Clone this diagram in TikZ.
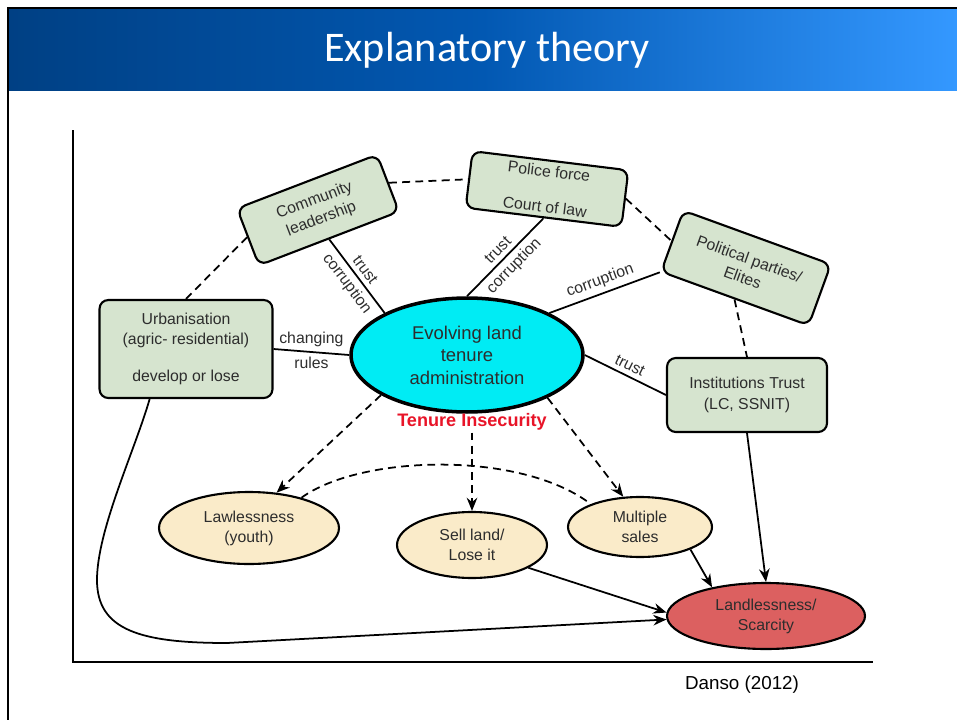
\documentclass[tikz,border=0pt]{standalone}
\usepackage{fontspec}
\setmainfont{Liberation Sans}
\newfontfamily\titlefont{Carlito}
\usetikzlibrary{shapes.geometric,arrows.meta}
\definecolor{bandleft}{RGB}{0,64,132}
\definecolor{bandmid}{RGB}{2,88,178}
\definecolor{bandright}{RGB}{52,152,255}
\definecolor{boxgreen}{RGB}{214,228,207}
\definecolor{ovalcream}{RGB}{250,235,201}
\definecolor{evolvecyan}{RGB}{0,236,244}
\definecolor{landred}{RGB}{220,96,96}
\definecolor{insecred}{RGB}{232,20,40}
\definecolor{inkgray}{RGB}{45,45,45}

\begin{document}
\begin{tikzpicture}[x=.02cm, y=-.02cm,
    box/.style={draw, line width=1.2, rounded corners=5pt, fill=boxgreen, align=center, inner sep=0, text=inkgray, font=\fontsize{9}{11.3}\selectfont},
    oval/.style={draw, ellipse, line width=1.2, fill=ovalcream, align=center, inner sep=0, text=inkgray, font=\fontsize{9}{11.3}\selectfont},
    link/.style={line width=1},
    soft/.style={line width=1, dash pattern=on 4.5pt off 3pt},
    tip/.style={-{Stealth[length=7.5pt, width=6pt]}},
    lbl/.style={inner sep=2.5pt, text=inkgray, font=\fontsize{9}{11}\selectfont}]
    \useasboundingbox (0, 0) rectangle (957, 720);

    \shade[left color=bandleft, right color=bandright, middle color=bandmid] (8, 8) rectangle (957, 90);
    \draw[line width=1.5] (8, 720) -- (8, 8) -- (957, 8);
    \node[text=white, font=\titlefont\fontsize{24}{28}\selectfont] (title) at (487, 50) {Explanatory theory};

    \draw[line width=.8] (73, 130) -- (73, 662) -- (873, 662);

    \node[box, rotate=21, minimum width=3cm, minimum height=1.22cm] (comm) at (318, 210) {Community\\leadership};
    \node[box, rotate=-7, minimum width=3.14cm, minimum height=1.14cm] (police) at (547, 189) {Police force\\[9pt]Court of law};
    \node[box, rotate=-20, minimum width=3.14cm, minimum height=1.3cm] (political) at (746, 268) {Political parties/\\Elites};
    \node[box, minimum width=3.46cm, minimum height=1.96cm] (urban) at (186, 349) {Urbanisation\\(agric- residential)\\[10pt]develop or lose};
    \node[box, minimum width=3.2cm, minimum height=1.48cm] (inst) at (747, 395) {Institutions Trust\\[1pt](LC, SSNIT)};

    \node[oval, line width=2, fill=evolvecyan, minimum width=4.64cm, minimum height=2.28cm, font=\fontsize{10.5}{12.8}\selectfont] (evolve) at (467, 355) {Evolving land\\tenure\\administration};
    \node[text=insecred, font=\bfseries\fontsize{10.3}{12}\selectfont, inner sep=1pt] (tenure) at (472, 422) {Tenure Insecurity};

    \node[oval, minimum width=3.6cm, minimum height=1.44cm] (lawless) at (249, 528) {Lawlessness\\(youth)};
    \node[oval, minimum width=3cm, minimum height=1.32cm] (sell) at (472, 545) {Sell land/\\Lose it};
    \node[oval, minimum width=2.88cm, minimum height=1.2cm] (multi) at (640, 527) {Multiple\\sales};
    \node[oval, fill=landred, minimum width=3.96cm, minimum height=1.32cm] (landless) at (766, 616) {Landlessness/\\Scarcity};

    \node[font=\fontsize{10.7}{13}\selectfont] (source) at (742, 685) {Danso (2012)};

    \draw[soft] (urban.north) -- (comm.west);
    \draw[soft] (comm.east) -- (police.west);
    \draw[soft] (police.east) -- (political.west);
    \draw[soft] (political.south) -- (inst.north);

    \draw[link] (comm.south) -- (evolve.153) node[lbl, midway, sloped, above] {trust} node[lbl, midway, sloped, below] {corruption};
    \draw[link] (police.south) -- (evolve.north) node[lbl, midway, sloped, above] {trust} node[lbl, midway, sloped, below] {corruption};
    \draw[link] (political.south west) -- (evolve.27) node[lbl, midway, sloped, above] {corruption};
    \draw[link] (evolve.east) -- (inst.west) node[lbl, midway, sloped, above] {trust};
    \draw[link] (urban.east) -- (evolve.west) node[lbl, midway, above] {changing} node[lbl, midway, below] {rules};

    \draw[soft, tip] (evolve.205) -- (lawless.52);
    \draw[soft, tip] (tenure.south) -- (sell.north);
    \draw[soft, tip] (evolve.-28) -- (multi.119);
    \draw[soft] (lawless.30) .. controls (360, 455) and (520, 450) .. (multi.155);

    \draw[link, tip] (inst.south) -- (landless.north);
    \draw[link, tip] (multi.-24) -- (landless.152);
    \draw[link, tip] (sell.-22) -- (landless.178);
    \draw[link, tip] (urban.234) .. controls (135, 450) and (97, 530) .. (97, 580) .. controls (97, 630) and (140, 643) .. (227, 643) -- (landless.182);
\end{tikzpicture}
\end{document}
